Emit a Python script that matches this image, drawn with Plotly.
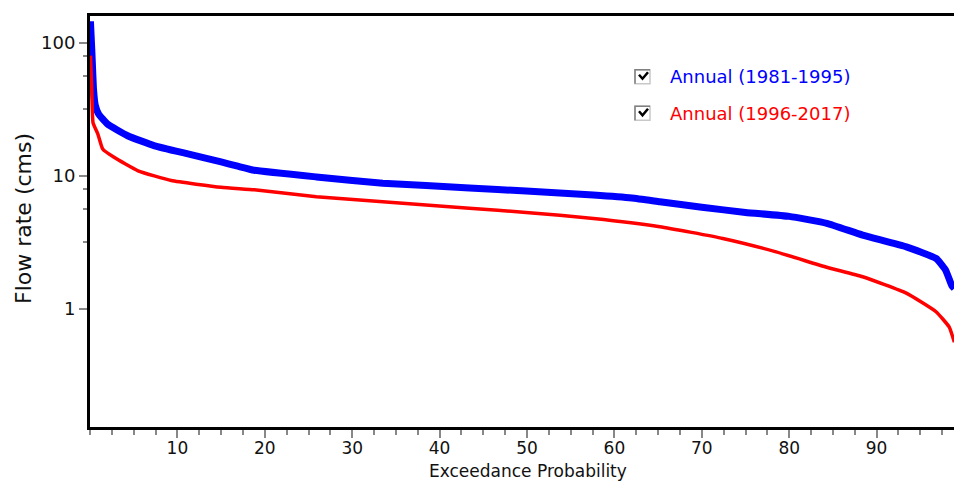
import plotly.graph_objects as go

# Exceedance probability (%) and flow rate (cms)
x_8195 = [0.05, 0.2, 0.4, 0.6, 1.0, 2.0, 4.3, 7.4, 11.2, 15.0, 16.9, 18.8, 25.9, 33.5, 43.4,
          49.9, 57.6, 62.0, 65.2, 70.0, 75.0, 80.0, 84.3, 88.4, 93.4, 96.8, 97.9, 98.6, 98.9]
q_8195 = [145, 90, 45, 34, 29, 24.5, 20.0, 16.8, 14.6, 12.7, 11.8, 11.0, 9.8, 8.8, 8.1,
          7.67, 7.16, 6.8, 6.38, 5.8, 5.3, 4.95, 4.39, 3.58, 2.92, 2.39, 1.95, 1.5, 1.42]

x_9617 = [0.05, 0.2, 0.35, 0.9, 1.45, 2.8, 5.5, 9.3, 15.0, 18.8, 25.9, 33.5, 43.4,
          49.9, 57.6, 65.2, 72.4, 78.5, 84.3, 88.4, 93.4, 96.8, 98.3, 98.9]
q_9617 = [80, 45, 25, 20.6, 15.9, 13.7, 10.9, 9.2, 8.2, 7.85, 6.95, 6.38, 5.69,
          5.3, 4.78, 4.14, 3.38, 2.68, 2.05, 1.74, 1.31, 0.95, 0.73, 0.56]

x_ticks = [10, 20, 30, 40, 50, 60, 70, 80, 90]
y_ticks = [1, 10, 100]
y_minor = [3.162, 5.623, 7.943, 31.62, 56.23, 79.43]
series_names = ["Annual (1981-1995)", "Annual (1996-2017)"]
series_colors = ["#0000FF", "#FF0000"]

W, H = 954, 483
L, R, T, B = 90, 0, 16, 56
pw, ph = W - L - R, H - T - B


def px(x):
    return (x - L) / pw


def py(y):
    return (H - B - y) / ph


fig = go.Figure()
fig.add_trace(go.Scatter(x=x_8195, y=q_8195, mode="lines", name=series_names[0],
                         line=dict(color=series_colors[0], width=7, shape="spline", smoothing=0.4)))
fig.add_trace(go.Scatter(x=x_9617, y=q_9617, mode="lines", name=series_names[1],
                         line=dict(color=series_colors[1], width=3.5, shape="spline", smoothing=0.4)))

fig.update_layout(
    width=W, height=H,
    margin=dict(l=L, r=R, t=T, b=B, pad=0),
    paper_bgcolor="white", plot_bgcolor="white",
    showlegend=False,
    font=dict(family="DejaVu Sans", size=18, color="black"),
)
fig.update_xaxes(
    range=[0, (W - L) / 8.74], showgrid=False, zeroline=False,
    showline=True, linecolor="black", linewidth=3, mirror=True,
    tickmode="array", tickvals=x_ticks, ticks="outside", ticklen=8,
    tickcolor="#888888", tickwidth=1.5,
    tickfont=dict(family="DejaVu Sans", size=17, color="#111111"),
    ticklabelstandoff=-4,
    minor=dict(dtick=2.5, tick0=0, ticks="outside", ticklen=5,
               tickcolor="#888888", tickwidth=1.5),
)
fig.update_yaxes(
    type="log", range=[-0.889, -0.889 + ph / 133.0], showgrid=False, zeroline=False,
    showline=True, linecolor="black", linewidth=3,
    tickmode="array", tickvals=y_ticks, ticktext=["1", "10", "100"],
    ticks="outside", ticklen=8, tickcolor="#888888", tickwidth=1.5,
    tickfont=dict(family="DejaVu Sans", size=18, color="#111111"),
    minor=dict(tickmode="array", tickvals=y_minor, ticks="outside", ticklen=4,
               tickcolor="#888888", tickwidth=1.5),
)

# axis titles
fig.add_annotation(text="Exceedance Probability", xref="paper", yref="paper",
                   x=px(528), y=py(471.5), xanchor="center", yanchor="middle",
                   showarrow=False, font=dict(family="DejaVu Sans", size=17, color="#111111"))
fig.add_annotation(text="Flow rate (cms)", xref="paper", yref="paper",
                   x=px(24), y=py(219), xanchor="center", yanchor="middle", textangle=-90,
                   showarrow=False, font=dict(family="DejaVu Sans", size=22, color="#111111"))

# checkbox legend
rows = [76.7, 113.3]
for name, color, cy in zip(series_names, series_colors, rows):
    bx0, bx1, by0, by1 = 635, 650, cy - 7, cy + 7
    fig.add_shape(type="rect", xref="paper", yref="paper",
                  x0=px(bx0), x1=px(bx1), y0=py(by1), y1=py(by0),
                  line=dict(color="#c8c8c8", width=1.5), fillcolor="white")
    fig.add_shape(type="path", xref="paper", yref="paper",
                  path=f"M {px(bx0)} {py(by1)} L {px(bx0)} {py(by0)} L {px(bx1)} {py(by0)}",
                  line=dict(color="#808080", width=1.5))
    fig.add_shape(type="path", xref="paper", yref="paper",
                  path=f"M {px(639)} {py(cy - 2)} L {px(642.5)} {py(cy + 2)} L {px(648)} {py(cy - 4.5)}",
                  line=dict(color="black", width=2.5))
    fig.add_annotation(text=name, xref="paper", yref="paper",
                       x=px(668), y=py(cy), xanchor="left", yanchor="middle",
                       showarrow=False, font=dict(family="DejaVu Sans", size=18, color=color))

fig.write_html(
    "out.html",
    config={"displayModeBar": False},
    post_script="document.body.style.margin='0';document.body.style.overflow='hidden';",
)
